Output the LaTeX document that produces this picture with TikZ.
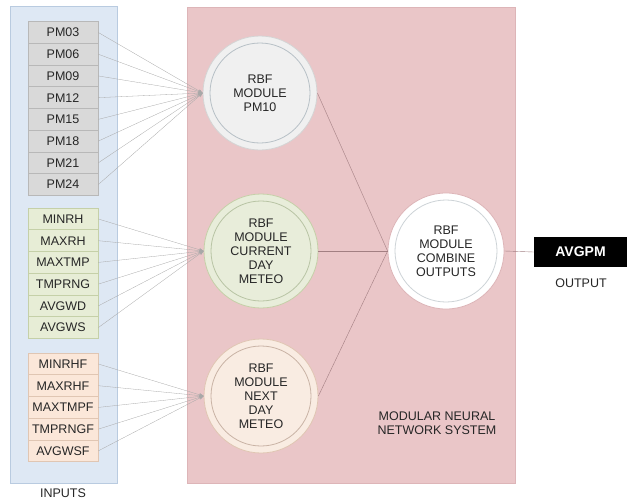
\documentclass[tikz,border=0pt]{standalone}
\usepackage{fontspec}
\setmainfont{Liberation Sans}
\usetikzlibrary{arrows.meta,positioning}
\definecolor{txtgray}{HTML}{262626}
\definecolor{inblue}{HTML}{DEE8F4}
\definecolor{inblueline}{HTML}{B9CBE0}
\definecolor{pinkbg}{HTML}{EAC6C8}
\definecolor{pinkline}{HTML}{DDB5B8}
\definecolor{pmfill}{HTML}{D9D9D9}
\definecolor{pmline}{HTML}{B8B8B8}
\definecolor{grfill}{HTML}{E7EDD6}
\definecolor{grline}{HTML}{C5D0A8}
\definecolor{orfill}{HTML}{FBE7D9}
\definecolor{orline}{HTML}{E0C6B3}
\definecolor{pmcircle}{HTML}{F0F0F0}
\definecolor{grcircle}{HTML}{E8EDDA}
\definecolor{orcircle}{HTML}{F9ECE2}
\definecolor{ringgray}{HTML}{B7C0C6}
\definecolor{ringgreen}{HTML}{B8C4A4}
\definecolor{ringbrown}{HTML}{C9B3A5}
\definecolor{linegray}{HTML}{A8A8A8}
\definecolor{linkbrown}{HTML}{A27F82}

\begin{document}
\begin{tikzpicture}[x=1pt, y=-1pt,
    every node/.style={font=\fontsize{12.5}{14}\selectfont, text=txtgray},
    panel/.style={rectangle, inner sep=0pt, line width=0.8pt},
    inbox/.style={rectangle, minimum width=70pt, minimum height=21.7pt,
                  inner sep=0pt, line width=0.8pt},
    rbf/.style={circle, minimum size=114pt, inner sep=0pt, align=center, line width=0.8pt},
    ring/.style={line width=0.8pt},
    arr/.style={-{Stealth[length=1.6mm, width=1.2mm]}, line width=0.3pt, linegray},
    link/.style={line width=0.4pt, linkbrown}]
    \useasboundingbox (0,0) rectangle (628,503);
    % panels
    \node[panel, draw=inblueline, fill=inblue, minimum width=107pt, minimum height=477pt] (inputs) at (63.5,245) {};
    \node[panel, draw=pinkline, fill=pinkbg, minimum width=328pt, minimum height=476pt] (mnns) at (351,245) {};
    % input boxes
    \foreach \lbl [count=\i] in {PM03,PM06,PM09,PM12,PM15,PM18,PM21,PM24}
        \node[inbox, draw=pmline, fill=pmfill] (pm\i) at (63, 10.85+21.7*\i) {\lbl};
    \foreach \lbl [count=\i] in {MINRH,MAXRH,MAXTMP,TMPRNG,AVGWD,AVGWS}
        \node[inbox, draw=grline, fill=grfill] (cd\i) at (63, 197.3+21.7*\i) {\lbl};
    \foreach \lbl [count=\i] in {MINRHF,MAXRHF,MAXTMPF,TMPRNGF,AVGWSF}
        \node[inbox, draw=orline, fill=orfill] (nd\i) at (63, 342.3+21.7*\i) {\lbl};
    % modules
    \node[rbf, draw=pmline!60, fill=pmcircle] (m1) at (260,93) {RBF\\MODULE\\PM10};
    \draw[ring, ringgray] (m1.center) circle[radius=50pt];
    \node[rbf, draw=grline, fill=grcircle] (m2) at (261,251) {RBF\\MODULE\\CURRENT\\DAY\\METEO};
    \draw[ring, ringgreen] (m2.center) circle[radius=50pt];
    \node[rbf, draw=orline, fill=orcircle] (m3) at (261,396) {RBF\\MODULE\\NEXT\\DAY\\METEO};
    \draw[ring, ringbrown] (m3.center) circle[radius=50pt];
    \node[rbf, minimum size=116pt, draw=pinkline, fill=white] (comb) at (446,251) {RBF\\MODULE\\COMBINE\\OUTPUTS};
    \draw[ring, ringgray!70] (comb.center) circle[radius=51pt];
    % connections
    \foreach \i in {1,...,8} \draw[arr] (pm\i.east) -- (m1.west);
    \foreach \i in {1,...,6} \draw[arr] (cd\i.east) -- (m2.west);
    \foreach \i in {1,...,5} \draw[arr] (nd\i.east) -- (m3.west);
    \foreach \m in {m1,m2,m3} \draw[link] (\m.east) -- (comb.west);
    % output
    \node[fill=black, text=white, font=\bfseries\fontsize{14}{16}\selectfont,
          minimum width=93pt, minimum height=30pt, inner sep=0pt] (avg) at (580.5,252) {AVGPM};
    \draw[link] (comb.east) -- (avg.west);
    \node (outlbl) at (581,283) {OUTPUT};
    \node (inlbl) at (63,493) {INPUTS};
    \node[align=center] (mnnslbl) at (437,423) {MODULAR NEURAL\\NETWORK SYSTEM};
\end{tikzpicture}
\end{document}
